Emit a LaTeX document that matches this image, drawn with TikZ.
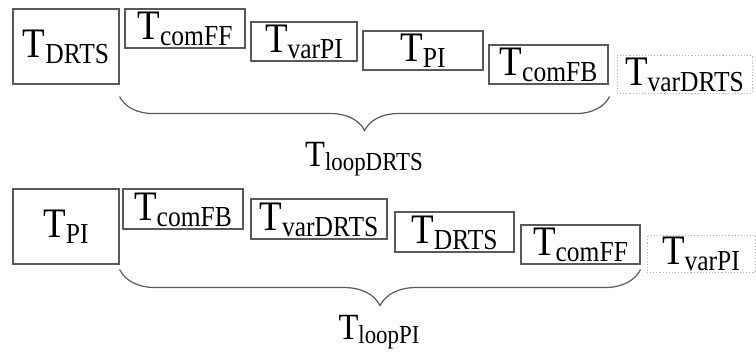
\documentclass[tikz,border=0pt]{standalone}
\usepackage{fontspec}
\setmainfont[FakeStretch=0.88]{Liberation Serif}
\usepackage{tikz}
\usetikzlibrary{decorations.pathreplacing}

\definecolor{linegray}{HTML}{5A5A5A}
\definecolor{dotgray}{HTML}{B4B4B4}

% T with a lowered subscript, box size and label size
\newcommand{\tsub}[1]{T\raisebox{-6pt}{\fontsize{29}{29}\selectfont #1}}
\newcommand{\tloop}[1]{T\raisebox{-4pt}{\fontsize{26}{26}\selectfont #1}}

\tikzset{
	tbox/.style={draw=linegray, line width=1.1pt, inner sep=0pt, text height=28pt, text depth=6pt, font=\fontsize{42}{42}\selectfont},
	tfree/.style={tbox, draw=dotgray, dotted, line width=0.9pt},
	tlabel/.style={inner sep=0pt, font=\fontsize{37}{37}\selectfont},
	lbrace/.style={decorate, decoration={brace, mirror, amplitude=#1}, draw=linegray, line width=1.2pt},
	lbrace/.default=34
}

\begin{document}
\begin{tikzpicture}[x=1pt, y=-1pt]
	\useasboundingbox (0,0) rectangle (756,354);

	% Loop of the DRTS
	\node [tbox, minimum width=106pt, minimum height=75pt] (dr)  at (66,46.5)    {\tsub{DRTS}};
	\node [tbox, minimum width=120pt, minimum height=39pt] (cf)  at (185,28.5)   {\tsub{comFF}};
	\node [tbox, minimum width=106pt, minimum height=39pt] (vp)  at (304,41.5)   {\tsub{varPI}};
	\node [tbox, minimum width=120pt, minimum height=39pt] (pi)  at (423,50.5)   {\tsub{PI}};
	\node [tbox, minimum width=119pt, minimum height=39pt] (cb)  at (548.5,64.5) {\tsub{comFB}};
	\node [tfree, minimum width=135pt, minimum height=38pt] (vd) at (684.5,74)   {\tsub{varDRTS}};

	\draw [lbrace=34] ([yshift=-12pt]dr.south east) -- ([yshift=-12pt,xshift=1pt]cb.south east);
	\node [tlabel] (ld) at (364,159) {\tloop{loopDRTS}};

	% Loop of the PI
	\node [tbox, minimum width=106pt, minimum height=75pt] (pb)  at (66,226.5)   {\tsub{PI}};
	\node [tbox, minimum width=120pt, minimum height=40pt] (cb2) at (183,209)     {\tsub{comFB}};
	\node [tbox, minimum width=136pt, minimum height=40pt] (vd2) at (319,219)     {\tsub{varDRTS}};
	\node [tbox, minimum width=119pt, minimum height=40pt] (dr2) at (454.5,232)  {\tsub{DRTS}};
	\node [tbox, minimum width=119pt, minimum height=39pt] (cf2) at (580.5,244.5) {\tsub{comFF}};
	\node [tfree, minimum width=108pt, minimum height=37pt] (vp2) at (701,253.5) {\tsub{varPI}};

	\draw [lbrace=36] ([yshift=-5pt]pb.south east) -- ([yshift=-5pt]cf2.south east);
	\node [tlabel] (lp) at (379,332) {\tloop{loopPI}};
\end{tikzpicture}
\end{document}
